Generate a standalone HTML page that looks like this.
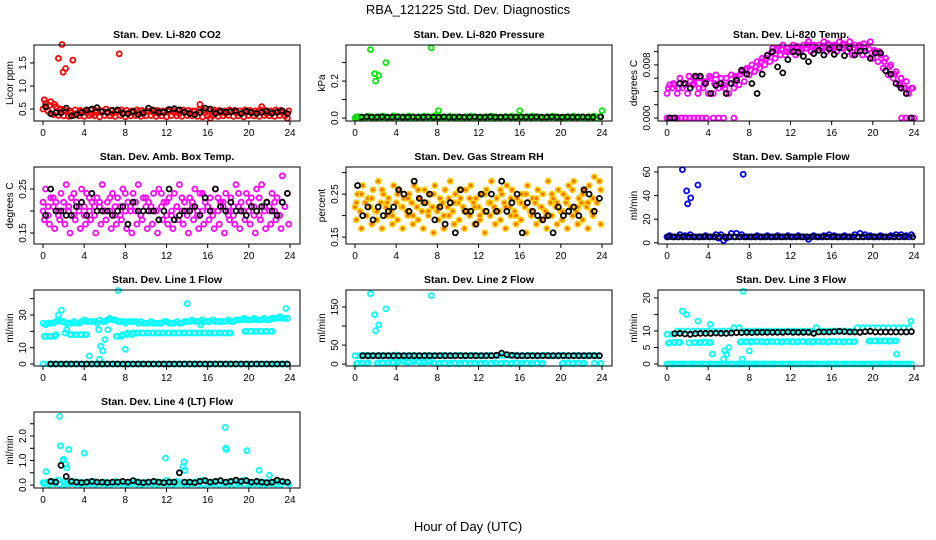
<!DOCTYPE html>
<html><head><meta charset="utf-8"><style>
html,body{margin:0;padding:0;background:#fff;}
svg{display:block;font-family:"Liberation Sans",sans-serif;}
</style></head><body>
<svg id="chart" width="936" height="540" viewBox="0 0 936 540" xmlns="http://www.w3.org/2000/svg">
<rect width="936" height="540" fill="#fff"/>
<text x="468" y="14" font-size="13" text-anchor="middle">RBA_121225  Std. Dev. Diagnostics</text>
<text x="468" y="531" font-size="13" text-anchor="middle">Hour of Day (UTC)</text>
</svg>
<script>
const H = [0.25,0.75,1.25,1.75,2.25,2.75,3.25,3.75,4.25,4.75,5.25,5.75,6.25,6.75,7.25,7.75,8.25,8.75,9.25,9.75,10.25,10.75,11.25,11.75,12.25,12.75,13.25,13.75,14.25,14.75,15.25,15.75,16.25,16.75,17.25,17.75,18.25,18.75,19.25,19.75,20.25,20.75,21.25,21.75,22.25,22.75,23.25,23.75];
const H2 = [0,0.5,1,1.5,2,2.5,3,3.5,4,4.5,5,5.5,6,6.5,7,7.5,8,8.5,9,9.5,10,10.5,11,11.5,12,12.5,13,13.5,14,14.5,15,15.5,16,16.5,17,17.5,18,18.5,19,19.5,20,20.5,21,21.5,22,22.5,23,23.5];
const H3 = [0.125,0.625,1.125,1.625,2.125,2.625,3.125,3.625,4.125,4.625,5.125,5.625,6.125,6.625,7.125,7.625,8.125,8.625,9.125,9.625,10.125,10.625,11.125,11.625,12.125,12.625,13.125,13.625,14.125,14.625,15.125,15.625,16.125,16.625,17.125,17.625,18.125,18.625,19.125,19.625,20.125,20.625,21.125,21.625,22.125,22.625,23.125,23.875];
const xTicks = [0,4,8,12,16,20,24];

// CO2
const co2Red1 = [0.62,0.66,0.55,0.5,0.45,0.42,0.4,0.44,0.42,0.38,0.44,0.46,0.42,0.4,0.45,0.43,0.4,0.42,0.44,0.4,0.45,0.42,0.4,0.43,0.45,0.42,0.4,0.44,0.42,0.45,0.6,0.42,0.3,0.44,0.42,0.4,0.45,0.42,0.4,0.43,0.44,0.42,0.55,0.4,0.42,0.44,0.42,0.3];
const co2Red2 = [0.5,0.45,0.38,0.36,0.35,0.34,0.36,0.35,0.34,0.36,0.35,0.33,0.36,0.35,0.34,0.36,0.33,0.35,0.36,0.34,0.35,0.36,0.34,0.35,0.33,0.36,0.35,0.34,0.36,0.35,0.34,0.33,0.35,0.36,0.34,0.35,0.36,0.34,0.35,0.33,0.36,0.35,0.34,0.36,0.35,0.34,0.36,0.35];
const co2Red3 = [0.7,0.58,0.6,0.48,0.47,0.46,0.48,0.47,0.46,0.48,0.47,0.46,0.5,0.47,0.46,0.48,0.47,0.46,0.48,0.47,0.46,0.48,0.47,0.46,0.48,0.47,0.46,0.48,0.47,0.46,0.48,0.47,0.46,0.48,0.47,0.46,0.48,0.47,0.46,0.48,0.47,0.46,0.48,0.47,0.46,0.48,0.47,0.46];
const co2Black = [0.55,0.4,0.42,0.42,0.52,0.35,0.38,0.42,0.48,0.5,0.53,0.44,0.43,0.47,0.48,0.4,0.4,0.45,0.38,0.42,0.52,0.47,0.43,0.43,0.49,0.51,0.48,0.43,0.4,0.38,0.43,0.52,0.5,0.4,0.45,0.43,0.44,0.46,0.4,0.45,0.42,0.4,0.43,0.45,0.41,0.43,0.46,0.4];
const co2OutX = [1.5,1.85,1.95,2.2,2.9,7.4];
const co2OutY = [1.6,1.9,1.3,1.38,1.56,1.7];

// Pressure
const presGreen1 = [0.008,0.005,0.01,0.006,0.008,0.01,0.005,0.012,0.008,0.006,0.01,0.005,0.008,0.01,0.006,0.012,0.005,0.008,0.01,0.006,0.005,0.008,0.01,0.006,0.005,0.008,0.01,0.006,0.005,0.008,0.01,0.006,0.005,0.008,0.01,0.006,0.005,0.008,0.01,0.006,0.005,0.008,0.01,0.006,0.005,0.008,0.01,0.006];
const presGreen2 = [0,0.002,0,0.003,0.001,0,0.002,0,0.003,0.001,0,0.002,0,0.003,0.001,0,0.002,0,0.003,0.001,0,0.002,0,0.003,0.001,0,0.002,0,0.003,0.001,0,0.002,0,0.003,0.001,0,0.002,0,0.003,0.001,0,0.002,0,0.003,0.001,0,0.002,0];
const presBlack = [0.005,0.005,0.006,0.005,0.005,0.006,0.005,0.005,0.006,0.005,0.005,0.006,0.005,0.005,0.006,0.005,0.005,0.006,0.005,0.005,0.006,0.005,0.005,0.006,0.005,0.005,0.006,0.005,0.005,0.006,0.005,0.005,0.006,0.005,0.005,0.006,0.005,0.005,0.006,0.005,0.005,0.006,0.005,0.005,0.006,0.005,0.005,0.006];
const presOutX = [0.1,1.5,1.9,2.0,2.3,3.0,7.4,8.1,16,24];
const presOutY = [0.005,0.37,0.24,0.2,0.23,0.3,0.38,0.04,0.04,0.04];

// Li-820 temp
const tempMag1 = [0.005,0.005,0.006,0.005,0.0055,0.006,0.006,0.0055,0.006,0.0065,0.006,0.006,0.0065,0.006,0.007,0.0075,0.008,0.0085,0.009,0.0095,0.0105,0.0105,0.011,0.0105,0.011,0.0105,0.011,0.0115,0.011,0.011,0.0115,0.011,0.011,0.0115,0.011,0.0115,0.011,0.011,0.0105,0.0115,0.01,0.0095,0.009,0.008,0.007,0.006,0.0055,0.0045];
const tempMag2 = [0.0037,0.0045,0.0037,0.0045,0.0037,0.005,0.0037,0.0045,0.0037,0.0037,0.0045,0.005,0.0037,0.0045,0.005,0.0055,0.0065,0.007,0.0075,0.008,0.0085,0.009,0.0095,0.0095,0.01,0.0095,0.01,0.0105,0.01,0.0105,0.0105,0.01,0.0105,0.01,0.0105,0.01,0.0095,0.01,0.0095,0.0095,0.009,0.0085,0.0075,0.0065,0.006,0.005,0.0045,0.0037];
const tempMag3 = [0.0045,0.0052,0.0045,0.0052,0.0063,0.0052,0.0045,0.0052,0.0063,0.0052,0.0052,0.0045,0.0052,0.0063,0.0066,0.0072,0.0072,0.0077,0.0085,0.009,0.0098,0.0102,0.0104,0.01,0.0106,0.0108,0.0104,0.011,0.0108,0.0106,0.0108,0.0112,0.0108,0.0106,0.0112,0.0108,0.0106,0.0108,0.0112,0.0104,0.0102,0.01,0.0085,0.0077,0.0066,0.0052,0.0045,0.0045];
const tempZeroX = [0,0.3,0.6,1,1.4,1.8,2.2,2.6,3,3.4,3.8,4.5,5,5.5,6.5,22.8,23.2,23.6,24];
const tempZeroY = [0,0,0,0,0,0,0,0,0,0,0,0,0,0,0,0,0,0,0];
const tempBlack = [0,0,0.0052,0.0052,0.0045,0.0063,0.0063,0.0052,0.0037,0.0049,0.0052,0.0037,0.0052,0.0057,0.0072,0.0066,0.0052,0.0037,0.0066,0.0094,0.01,0.0077,0.0068,0.0088,0.01,0.0099,0.0093,0.0085,0.0097,0.0102,0.0095,0.0104,0.0096,0.0106,0.0094,0.0105,0.0095,0.0101,0.0101,0.009,0.0098,0.0098,0.0071,0.0066,0.0052,0.0045,0.0037,0];

// Amb box temp
const ambMag1 = [0.25,0.23,0.22,0.24,0.26,0.23,0.22,0.25,0.24,0.22,0.23,0.26,0.22,0.24,0.23,0.25,0.22,0.24,0.26,0.23,0.22,0.24,0.25,0.22,0.23,0.24,0.26,0.22,0.23,0.25,0.24,0.22,0.23,0.25,0.22,0.24,0.23,0.26,0.22,0.24,0.23,0.25,0.26,0.22,0.24,0.23,0.28,0.24];
const ambMag2 = [0.2,0.19,0.21,0.2,0.2,0.21,0.19,0.2,0.21,0.2,0.19,0.21,0.2,0.2,0.21,0.19,0.2,0.21,0.2,0.19,0.21,0.2,0.2,0.21,0.19,0.2,0.21,0.2,0.19,0.21,0.2,0.2,0.21,0.19,0.2,0.21,0.2,0.19,0.21,0.2,0.2,0.21,0.19,0.2,0.21,0.2,0.19,0.21];
const ambMag3 = [0.18,0.17,0.16,0.18,0.17,0.15,0.18,0.16,0.17,0.18,0.15,0.17,0.18,0.16,0.17,0.18,0.16,0.15,0.17,0.18,0.16,0.17,0.15,0.18,0.17,0.16,0.18,0.17,0.15,0.18,0.16,0.17,0.18,0.16,0.17,0.15,0.18,0.17,0.16,0.18,0.17,0.15,0.18,0.16,0.17,0.18,0.16,0.17];
const ambMag4 = [0.22,0.21,0.23,0.19,0.22,0.2,0.24,0.21,0.19,0.23,0.21,0.22,0.2,0.23,0.19,0.21,0.24,0.2,0.22,0.19,0.23,0.21,0.2,0.24,0.22,0.19,0.21,0.23,0.2,0.22,0.19,0.24,0.21,0.2,0.23,0.22,0.19,0.21,0.24,0.2,0.22,0.19,0.23,0.21,0.2,0.22,0.19,0.21];
const ambBlack = [0.19,0.25,0.2,0.2,0.19,0.19,0.21,0.22,0.19,0.24,0.2,0.2,0.2,0.19,0.2,0.21,0.17,0.22,0.2,0.2,0.2,0.2,0.18,0.2,0.25,0.18,0.19,0.2,0.2,0.21,0.19,0.23,0.2,0.25,0.21,0.2,0.22,0.2,0.2,0.19,0.21,0.2,0.21,0.22,0.2,0.19,0.22,0.24];

// RH
const rhOr1 = [0.25,0.27,0.24,0.26,0.28,0.25,0.24,0.27,0.26,0.24,0.25,0.27,0.24,0.26,0.25,0.27,0.24,0.26,0.28,0.25,0.24,0.26,0.27,0.24,0.25,0.26,0.28,0.24,0.25,0.27,0.26,0.24,0.25,0.27,0.24,0.26,0.25,0.28,0.24,0.26,0.25,0.27,0.28,0.24,0.26,0.27,0.29,0.28];
const rhOr2 = [0.22,0.21,0.23,0.22,0.21,0.23,0.22,0.21,0.23,0.22,0.21,0.23,0.22,0.21,0.23,0.22,0.21,0.23,0.22,0.21,0.23,0.22,0.21,0.23,0.22,0.21,0.23,0.22,0.21,0.23,0.22,0.21,0.23,0.22,0.21,0.23,0.22,0.21,0.23,0.22,0.21,0.23,0.22,0.21,0.23,0.22,0.21,0.23];
const rhOr3 = [0.19,0.17,0.2,0.18,0.19,0.17,0.2,0.18,0.19,0.17,0.2,0.18,0.19,0.17,0.2,0.16,0.19,0.17,0.2,0.18,0.19,0.17,0.2,0.18,0.19,0.16,0.2,0.18,0.19,0.17,0.2,0.18,0.19,0.16,0.2,0.18,0.19,0.17,0.2,0.18,0.19,0.17,0.2,0.18,0.19,0.17,0.2,0.18];
const rhOr4 = [0.23,0.25,0.2,0.24,0.21,0.26,0.23,0.2,0.25,0.22,0.24,0.2,0.26,0.23,0.21,0.25,0.22,0.2,0.24,0.23,0.26,0.21,0.24,0.22,0.2,0.25,0.23,0.21,0.26,0.22,0.24,0.2,0.23,0.25,0.21,0.24,0.22,0.2,0.25,0.23,0.21,0.24,0.26,0.22,0.25,0.23,0.24,0.26];
const rhBlack = [0.27,0.2,0.22,0.19,0.22,0.2,0.21,0.22,0.26,0.25,0.21,0.28,0.24,0.23,0.25,0.19,0.22,0.18,0.23,0.16,0.26,0.21,0.21,0.18,0.25,0.21,0.25,0.21,0.28,0.21,0.23,0.25,0.16,0.23,0.21,0.2,0.19,0.2,0.16,0.22,0.2,0.21,0.22,0.2,0.26,0.25,0.21,0.24];

// Sample flow
const sampBlue1 = [6,5,7,6,7,5,5,6,5,7,7,4,8,8,7,5,5,6,5,6,5,6,5,6,5,6,5,3,6,5,6,7,6,5,6,5,7,8,7,6,5,6,5,6,7,7,6,7];
const sampBlue2 = [5,5,5,5,5,5,5,5,5,5,4,2,5,5,5,5,5,5,5,5,5,5,5,5,5,5,5,5,5,5,5,5,5,5,5,5,5,5,5,5,5,5,5,5,5,5,5,5];
const sampBlack = [5,5,5,5,5,5,5,5,5,5,5,5,5,5,5,5,5,5,5,5,5,5,5,5,5,5,5,5,5,5,5,5,5,5,5,5,5,5,5,5,5,5,5,5,5,5,5,5];
const sampOutX = [1.5,1.9,2.0,2.3,3.0,7.4];
const sampOutY = [62,44,33,38,49,58];

// Line 1
const l1a = [24,25,26,26,25,25,25,26,26,26,25,26,27,27,26,26,26,26,25,25,25,25,25,26,25,25,25,26,26,26,26,26,26,26,26,26,26,27,27,27,27,27,27,27,28,28,28,28];
const l1a2 = [25,25,25,27,26,25,26,25,27,26,26,27,26,28,27,26,25,26,26,26,25,26,25,25,26,25,26,25,26,27,26,27,26,27,26,26,27,26,27,28,27,28,27,28,27,28,29,28];
const l1b = [17,17,18,null,null,18,18,18,18,null,null,null,null,null,17,18,19,19,19,19,19,19,19,19,19,19,19,19,19,19,19,19,19,19,19,19,19,null,null,20,20,20,20,20,20,null,null,null];
const l1b2 = [17,17,17,null,19,18,18,18,18,null,null,null,null,null,17,17,18,18,19,19,19,19,19,19,19,19,19,19,19,19,19,19,19,19,19,19,19,null,null,20,20,20,20,20,20,null,null,null];
const l1c = [0,0,0,0,0,0,0,0,0,0,0,0,0,0,0,0,0,0,0,0,0,0,0,0,0,0,0,0,0,0,0,0,0,0,0,0,0,0,0,0,0,0,0,0,0,0,0,0];
const l1Black = [null,0,0,0,0,0,0,0,0,0,0,0,0,0,0,0,0,0,0,0,0,0,0,0,0,0,0,0,0,0,0,0,0,0,0,0,0,0,0,0,0,0,0,0,0,0,0,0];
const l1OutX = [1.5,1.8,2.3,4.5,5.4,5.5,5.6,5.8,6.0,6.3,7.3,8.0,14,15.3,23.6];
const l1OutY = [30,33,21,5,21,3,11,8,15,21,45,9,37,24,34];

// Line 2
const l2a = [22,22,23,22,22,23,22,22,24,22,22,23,22,22,23,22,22,23,22,22,23,22,22,23,22,22,23,22,22,23,22,24,22,22,23,22,22,23,22,22,23,22,22,23,22,22,23,22];
const l2b = [2,2,4,null,3,2,4,3,8,6,8,10,5,8,10,2,2,2,2,2,2,2,2,2,2,2,2,2,2,2,2,2,2,2,2,2,2,null,null,null,2,2,2,2,2,null,2,null];
const l2b2 = [1,3,2,null,2,4,2,5,4,10,4,6,8,4,6,3,1,3,1,3,1,3,1,3,1,3,1,3,1,3,1,3,1,3,1,3,1,null,null,null,1,3,1,3,1,null,null,2];
const l2Black = [null,22,22,22,22,22,22,22,22,22,22,22,22,22,22,22,22,22,22,22,22,22,22,22,22,22,22,23,29,25,23,22,22,22,22,22,22,22,22,22,22,22,22,22,22,22,22,22];
const l2OutX = [1.5,1.9,2.0,2.3,3.0,7.4];
const l2OutY = [185,130,88,103,145,180];

// Line 3
const l3a = [9,9,10,10,10,10,10,10,10,10,10,10,10,11,11,10,10,10,10,10,10,10,10,10,10,10,10,10,10,11,10,10,10,10,10,10,10,11,11,11,11,11,11,11,11,11,11,11];
const l3b = [6.5,6.5,6.5,null,null,6.5,6.5,6.5,6.5,null,null,null,null,null,6.8,6.8,6.8,6.8,6.8,6.8,6.8,6.8,6.8,6.8,6.8,6.8,6.8,6.8,6.8,6.8,6.8,6.8,6.8,6.8,6.8,6.8,6.8,null,null,7,7,7,7,7,7,null,null,null];
const l3b2 = [6.3,6.5,6.6,null,6.4,6.5,6.4,6.6,6.5,null,null,null,null,null,6.6,6.7,6.6,6.8,6.7,6.6,6.8,6.7,6.6,6.8,6.7,6.6,6.8,6.7,6.6,6.8,6.7,6.6,6.8,6.7,6.6,6.8,6.7,null,null,6.9,7,6.9,7,6.9,7,null,null,null];
const l3c = [0,0,0,0,0,0,0,0,0,0,0,0,0,0,0,0,0,0,0,0,0,0,0,0,0,0,0,0,0,0,0,0,0,0,0,0,0,0,0,0,0,0,0,0,0,0,0,0];
const l3Black = [null,9.2,9.3,9.1,9,9.2,9.3,9.3,9.3,9.4,9.3,9.3,9.4,9.5,9.5,9.6,9.5,9.6,9.6,9.6,9.6,9.6,9.6,9.7,9.6,9.6,9.6,9.6,9.3,9.7,9.7,9.7,9.8,9.9,9.8,9.7,9.7,9.6,9.8,9.9,9.7,9.7,9.7,9.7,9.7,9.7,9.7,9.8];
const l3OutX = [1.5,1.9,3.0,4.2,4.4,5.5,5.6,5.8,6.0,7.3,7.4,8.0,22.3,23.7];
const l3OutY = [16,15,13,12,3,1.5,4,3,5,1.5,22,4,3,13];

// Line 4
const l4a = [0.1,0.12,0.15,0.2,0.12,0.1,0.15,0.12,0.1,0.12,0.15,0.1,0.12,0.1,0.15,0.12,0.1,0.12,0.15,0.1,0.12,0.1,0.15,0.12,0.2,0.12,0.15,0.1,0.12,0.1,0.15,0.2,0.1,0.12,0.15,0.1,0.12,0.15,0.12,0.2,0.12,0.1,0.15,0.12,0.1,0.12,0.15,0.1];
const l4b = [0.05,0.03,0.05,0.04,0.03,0.05,0.04,0.03,0.05,0.04,0.03,0.05,0.04,0.03,0.05,0.04,0.03,0.05,0.04,0.03,0.05,0.04,0.03,0.05,0.04,0.03,0.05,0.04,0.03,0.05,0.04,0.03,0.05,0.04,0.03,0.05,0.04,0.03,0.05,0.04,0.03,0.05,0.04,0.03,0.05,0.04,0.03,0.05];
const l4Black = [null,0.15,0.12,0.8,0.35,0.15,0.12,0.1,0.12,0.15,0.12,0.12,0.1,0.12,0.12,0.15,0.12,0.18,0.12,0.1,0.12,0.15,0.12,0.1,0.12,0.12,0.5,0.12,0.12,0.1,0.15,0.18,0.12,0.15,0.18,0.12,0.15,0.2,0.15,0.18,0.12,0.15,0.12,0.1,0.12,0.2,0.15,0.12];
const l4OutX = [0.3,1.6,1.7,1.9,2.0,2.2,2.3,2.5,4.0,11.9,13.6,13.7,13.8,17.7,17.8,17.75,19.8,21.0,22.0];
const l4OutY = [0.55,2.8,1.6,1.0,1.05,0.85,0.7,1.45,1.3,1.1,0.75,0.95,0.6,2.35,1.45,1.5,1.4,0.6,0.4];

const NS = 'http://www.w3.org/2000/svg';
const svg = document.getElementById('chart');
const PX = [43, 355, 667];
const PY = [[45,121],[167,244],[290,366],[412,488]];
function mk(tag, attrs, parent){
  const e = document.createElementNS(NS, tag);
  for (const k in attrs) e.setAttribute(k, attrs[k]);
  (parent||svg).appendChild(e);
  return e;
}

function panel(c, r, name, title, ylab, dom, ticks, labels, series){
  const g = mk('g', {});
  
  
  const top = PY[r][0], bot = PY[r][1];
  const x0 = PX[c];
  const sx = h => x0 + h * (247/24);
  const sy = v => bot - (v - dom[0]) / (dom[1] - dom[0]) * (bot - top);
  const left = x0 - 9, right = x0 + 257;
  series.forEach(s => {
    const sg = mk('g', {fill: s.fill || 'none', stroke: s.c, 'stroke-width': 1.8}, g);
    
    
    for (let i = 0; i < s.y.length; i++){
      if (s.y[i] === null || s.y[i] === undefined) continue;
      const p = mk('circle', {cx: sx(s.x[i]).toFixed(1), cy: sy(s.y[i]).toFixed(1), r: 2.5}, sg);
      
      
    }
  });
  const b = mk('rect', {x: left, y: top, width: right-left, height: bot-top, fill: 'none', stroke: '#000', 'stroke-width': 1}, g);
  
  
  const xa = mk('g', {}, g);
  
  
  xTicks.forEach(t => {
    mk('line', {x1: sx(t), x2: sx(t), y1: bot, y2: bot+4, stroke: '#000'}, xa);
    const tx = mk('text', {x: sx(t), y: bot+15, 'font-size': 10, 'text-anchor': 'middle'}, xa);
    tx.textContent = t;
  });
  const ya = mk('g', {}, g);
  
  
  ticks.forEach((t, i) => {
    const y = sy(t);
    mk('line', {x1: left, x2: left-4, y1: y, y2: y, stroke: '#000'}, ya);
    if (labels[i] !== '') {
      const tx = mk('text', {x: left-8, y: y, 'font-size': 10, 'text-anchor': 'middle', transform: `rotate(-90 ${left-8} ${y})`}, ya);
      tx.textContent = labels[i];
    }
  });
  const yl = mk('text', {x: left-21, y: (top+bot)/2, 'font-size': 10, 'text-anchor': 'middle', transform: `rotate(-90 ${left-21} ${(top+bot)/2})`}, g);
  yl.textContent = ylab;
  
  
  const tt = mk('text', {x: (left+right)/2, y: top-7, 'font-size': 10.5, 'font-weight': 'bold', 'text-anchor': 'middle'}, g);
  tt.textContent = title;
  
  
}

const BK = '#000';
panel(0,0,'co2','Stan. Dev. Li-820 CO2','Licor ppm',[0.24,1.89],[0.5,1.0,1.5],['0.5','1.0','1.5'],[
  {n:'red-band-1',x:H,y:co2Red1,c:'#ff0000'},{n:'red-band-2',x:H2,y:co2Red2,c:'#ff0000'},{n:'red-band-3',x:H3,y:co2Red3,c:'#ff0000'},
  {n:'red-outliers',x:co2OutX,y:co2OutY,c:'#ff0000'},{n:'black-series',x:H,y:co2Black,c:BK}]);
panel(1,0,'pressure','Stan. Dev. Li-820 Pressure','kPa',[-0.016,0.395],[0,0.1,0.2,0.3],['0.0','','0.2',''],[
  {n:'green-band-1',x:H,y:presGreen1,c:'#00ee00'},{n:'green-band-2',x:H2,y:presGreen2,c:'#00ee00'},
  {n:'black-series',x:H3,y:presBlack,c:BK},{n:'green-outliers',x:presOutX,y:presOutY,c:'#00ee00'}]);
panel(2,0,'li820-temp','Stan. Dev. Li-820 Temp.','degrees C',[-0.00045,0.011],[0,0.002,0.004,0.006,0.008,0.010],['0.000','','','','0.008',''],[
  {n:'magenta-band-1',x:H,y:tempMag1,c:'#ff00ff'},{n:'magenta-band-2',x:H2,y:tempMag2,c:'#ff00ff'},{n:'magenta-band-3',x:H3,y:tempMag3,c:'#ff00ff'},
  {n:'magenta-zeros',x:tempZeroX,y:tempZeroY,c:'#ff00ff'},{n:'black-series',x:H,y:tempBlack,c:BK}]);
panel(0,1,'amb-box-temp','Stan. Dev. Amb. Box Temp.','degrees C',[0.125,0.30],[0.15,0.20,0.25],['0.15','','0.25'],[
  {n:'magenta-band-1',x:H,y:ambMag1,c:'#ff00ff'},{n:'magenta-band-2',x:H2,y:ambMag2,c:'#ff00ff'},{n:'magenta-band-3',x:H3,y:ambMag3,c:'#ff00ff'},
  {n:'magenta-band-4',x:H2,y:ambMag4,c:'#ff00ff'},{n:'black-series',x:H,y:ambBlack,c:BK}]);
panel(1,1,'gas-rh','Stan. Dev. Gas Stream RH','percent',[0.134,0.313],[0.15,0.20,0.25,0.30],['0.15','','0.25',''],[
  {n:'orange-band-1',x:H,y:rhOr1,c:'#ffcc00',fill:'#ff6600'},{n:'orange-band-2',x:H2,y:rhOr2,c:'#ffcc00',fill:'#ff6600'},{n:'orange-band-3',x:H3,y:rhOr3,c:'#ffcc00',fill:'#ff6600'},
  {n:'orange-band-4',x:H3,y:rhOr4,c:'#ffcc00',fill:'#ff6600'},{n:'black-series',x:H,y:rhBlack,c:BK}]);
panel(2,1,'sample-flow','Stan. Dev. Sample Flow','ml/min',[-1,64.2],[0,20,40,60],['0','20','40','60'],[
  {n:'blue-band-1',x:H,y:sampBlue1,c:'#0000ff'},{n:'blue-band-2',x:H2,y:sampBlue2,c:'#0000ff'},
  {n:'black-series',x:H3,y:sampBlack,c:BK},{n:'blue-outliers',x:sampOutX,y:sampOutY,c:'#0000ff'}]);
panel(0,2,'line1-flow','Stan. Dev. Line 1 Flow','ml/min',[-1.2,45.3],[0,10,20,30,40],['0','10','','30',''],[
  {n:'cyan-band-1',x:H,y:l1a,c:'#00ffff'},{n:'cyan-band-1b',x:H2,y:l1a2,c:'#00ffff'},{n:'cyan-band-2',x:H,y:l1b,c:'#00ffff'},{n:'cyan-band-2b',x:H3,y:l1b2,c:'#00ffff'},
  {n:'cyan-band-3',x:H2,y:l1c,c:'#00ffff'},{n:'cyan-outliers',x:l1OutX,y:l1OutY,c:'#00ffff'},{n:'black-series',x:H,y:l1Black,c:BK}]);
panel(1,2,'line2-flow','Stan. Dev. Line 2 Flow','ml/min',[-5,194.7],[0,50,100,150],['0','50','','150'],[
  {n:'cyan-band-1',x:H2,y:l2a,c:'#00ffff'},{n:'cyan-band-2',x:H,y:l2b,c:'#00ffff'},{n:'cyan-band-2b',x:H3,y:l2b2,c:'#00ffff'},
  {n:'cyan-outliers',x:l2OutX,y:l2OutY,c:'#00ffff'},{n:'black-series',x:H,y:l2Black,c:BK}]);
panel(2,2,'line3-flow','Stan. Dev. Line 3 Flow','ml/min',[-0.6,22.4],[0,5,10,15,20],['0','5','10','','20'],[
  {n:'cyan-band-1',x:H2,y:l3a,c:'#00ffff'},{n:'cyan-band-2',x:H,y:l3b,c:'#00ffff'},{n:'cyan-band-2b',x:H3,y:l3b2,c:'#00ffff'},{n:'cyan-band-3',x:H,y:l3c,c:'#00ffff'},
  {n:'cyan-band-3b',x:H2,y:l3c,c:'#00ffff'},{n:'cyan-outliers',x:l3OutX,y:l3OutY,c:'#00ffff'},{n:'black-series',x:H,y:l3Black,c:BK}]);
panel(0,3,'line4-flow','Stan. Dev. Line 4 (LT) Flow','ml/min',[-0.12,2.98],[0,0.5,1.0,1.5,2.0,2.5],['0.0','','1.0','','2.0',''],[
  {n:'cyan-band-1',x:H2,y:l4a,c:'#00ffff'},{n:'cyan-band-2',x:H3,y:l4b,c:'#00ffff'},
  {n:'cyan-outliers',x:l4OutX,y:l4OutY,c:'#00ffff'},{n:'black-series',x:H,y:l4Black,c:BK}]);
</script>
</body></html>
